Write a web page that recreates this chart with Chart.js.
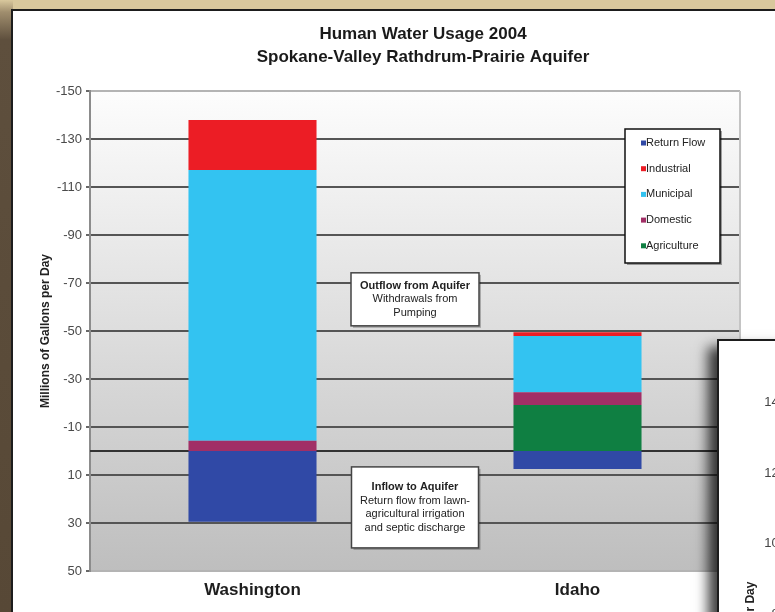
<!DOCTYPE html>
<html>
<head>
<meta charset="utf-8">
<script src="https://cdn.jsdelivr.net/npm/chart.js@4"></script>
<style>
  body { margin:0; width:775px; height:612px; overflow:hidden; position:relative; background:#d9c89d; font-family:"Liberation Sans", Arial, sans-serif; }
  #edge { position:absolute; left:0; top:0; width:13px; height:612px; background:linear-gradient(to bottom, #d9c89d 0px, #a08e6e 12px, #5e4f3d 40px, #574836 100%); }
  #panel { position:absolute; left:11px; top:9px; width:800px; height:700px; background:#fff; border:2px solid #1d1d1d; }
  #main { position:absolute; left:0; top:0; z-index:2; }
  #inset { position:absolute; left:717px; top:339px; width:300px; height:660px; background:#fff; border:2px solid #1d1d1d; box-shadow:-9px 8px 12px rgba(0,0,0,0.75); z-index:3; }
  #insetChart { position:absolute; left:0; top:0; }
</style>
</head>
<body>
<div id="edge"></div>
<div id="panel"></div>
<canvas id="main" width="846" height="612"></canvas>
<div id="inset"><canvas id="insetChart" width="300" height="624"></canvas></div>
<script>
// values, millions of gallons per day (withdrawals negative)
const categories = ['Washington', 'Idaho'];
const returnFlow = [29.5, 7.5];
const agriculture = [0, -19.2];
const domestic = [-4.3, -5.3];
const municipal = [-112.8, -23.4];
const industrial = [-20.8, -1.6];

const yMin = -150, yMax = 50, yStep = 20;
// the second chart only shows a few of its tick labels
const insetMin = -15, insetMax = 150;
const insetTicks = [0, 20, 40, 60, 80, 100, 120, 140];

const titleLines = ['Human Water Usage 2004', 'Spokane-Valley Rathdrum-Prairie Aquifer'];
const yTitle = 'Millions of Gallons per Day';
const outflowNote = ['Outflow from Aquifer', 'Withdrawals from', 'Pumping'];
const inflowNote = ['Inflow to Aquifer', 'Return flow from lawn-', 'agricultural irrigation', 'and septic discharge'];

const FONT = '"Liberation Sans", Arial, sans-serif';
Chart.defaults.font.family = FONT;

function noteBox(ctx, cx, cy, w, h, lines) {
  const x = cx - w / 2, y = cy - h / 2;
  ctx.save();
  ctx.fillStyle = 'rgba(0,0,0,0.25)';
  ctx.fillRect(x + 2, y + 2, w, h);
  ctx.fillStyle = '#fff';
  ctx.fillRect(x, y, w, h);
  ctx.strokeStyle = '#444';
  ctx.lineWidth = 1.5;
  ctx.strokeRect(x, y, w, h);
  ctx.fillStyle = '#222';
  ctx.textAlign = 'center';
  ctx.textBaseline = 'middle';
  const lh = 13.6;
  const start = cy - (lines.length - 1) * lh / 2;
  lines.forEach((t, i) => {
    ctx.font = (i === 0 ? 'bold ' : '') + '11px ' + FONT;
    ctx.fillText(t, cx, start + i * lh);
  });
  ctx.restore();
}

const decor = {
  id: 'decor',
  beforeDraw(chart) {
    const {ctx, chartArea: a} = chart;
    const g = ctx.createLinearGradient(0, a.top, 0, a.bottom);
    g.addColorStop(0, '#fdfdfd');
    g.addColorStop(1, '#bebebe');
    ctx.save();
    ctx.fillStyle = g;
    ctx.fillRect(a.left, a.top, a.right - a.left, a.bottom - a.top);
    ctx.restore();
  },
  beforeDatasetsDraw(chart) {
    const {ctx, chartArea: a, scales: {y}} = chart;
    ctx.save();
    ctx.strokeStyle = '#c4c4c4';
    ctx.lineWidth = 2;
    ctx.beginPath();
    ctx.moveTo(a.right, a.top);
    ctx.lineTo(a.right, a.bottom);
    ctx.stroke();
    const y0 = y.getPixelForValue(0);
    ctx.strokeStyle = '#333';
    ctx.beginPath();
    ctx.moveTo(a.left, y0);
    ctx.lineTo(a.right, y0);
    ctx.stroke();
    ctx.restore();
  },
  afterDraw(chart) {
    const {ctx, chartArea: a, scales: {x, y}} = chart;
    const mid = (x.getPixelForValue(0) + x.getPixelForValue(1)) / 2;
    noteBox(ctx, mid, y.getPixelForValue(-63.2), 128, 53, outflowNote);
    noteBox(ctx, mid, y.getPixelForValue(23.5), 127, 81, inflowNote);

    // legend box
    const bx = a.right - 115, by = a.top + 38, bw = 95, bh = 134;
    ctx.save();
    ctx.fillStyle = 'rgba(0,0,0,0.35)';
    ctx.fillRect(bx + 2, by + 2, bw, bh);
    ctx.fillStyle = '#fff';
    ctx.fillRect(bx, by, bw, bh);
    ctx.strokeStyle = '#111';
    ctx.lineWidth = 1.5;
    ctx.strokeRect(bx, by, bw, bh);
    ctx.font = '11px ' + FONT;
    ctx.textBaseline = 'middle';
    chart.data.datasets.slice().reverse().forEach((ds, i) => {
      const ly = by + 14 + i * 25.7;
      ctx.fillStyle = ds.backgroundColor;
      ctx.fillRect(bx + 16, ly - 2.5, 5, 5);
      ctx.fillStyle = '#222';
      ctx.fillText(ds.label, bx + 21, ly);
    });
    ctx.restore();
  }
};

new Chart(document.getElementById('main'), {
  type: 'bar',
  data: {
    labels: categories,
    datasets: [
      { label: 'Agriculture', data: agriculture, backgroundColor: '#0f7f42' },
      { label: 'Domestic', data: domestic, backgroundColor: '#a12f66' },
      { label: 'Municipal', data: municipal, backgroundColor: '#33c3f1' },
      { label: 'Industrial', data: industrial, backgroundColor: '#ec1d25' },
      { label: 'Return Flow', data: returnFlow, backgroundColor: '#3049a6' }
    ]
  },
  options: {
    responsive: false,
    animation: false,
    devicePixelRatio: 1,
    barPercentage: 0.394,
    categoryPercentage: 1,
    layout: { padding: 0 },
    plugins: {
      legend: { display: false },
      tooltip: { enabled: false },
      title: {
        display: true,
        text: titleLines,
        color: '#1a1a1a',
        font: { size: 17, weight: 'bold', lineHeight: 1.353 },
        padding: { top: 23, bottom: 22 }
      }
    },
    scales: {
      x: {
        stacked: true,
        grid: { display: false, drawTicks: false },
        border: { display: false },
        ticks: { color: '#1e1e1e', font: { size: 17, weight: 'bold' }, padding: 9 },
        afterFit(s) { s.height = 41; }
      },
      y: {
        stacked: true,
        reverse: true,
        min: yMin,
        max: yMax,
        ticks: { stepSize: yStep, color: '#4a4a4a', font: { size: 13 }, padding: 4 },
        grid: {
          color: c => (c.index === 0 || c.index === 10) ? '#b4b4b4' : '#555',
          lineWidth: 2,
          tickLength: 4,
          tickColor: '#666'
        },
        border: { display: true, color: '#8c8c8c', width: 2 },
        title: {
          display: true,
          text: yTitle,
          color: '#222',
          font: { size: 12, weight: 'bold' },
          padding: { top: 38, bottom: 0 }
        },
        afterFit(s) { s.width = 90; }
      },
      // empty right axis: only keeps the white margin right of the plot
      spacer: {
        position: 'right',
        grid: { display: false, drawTicks: false },
        border: { display: false },
        ticks: { display: false },
        afterFit(s) { s.width = 106; }
      }
    }
  },
  plugins: [decor]
});

// second chart peeking in at the lower right
new Chart(document.getElementById('insetChart'), {
  type: 'bar',
  data: { labels: [], datasets: [] },
  options: {
    responsive: false,
    animation: false,
    devicePixelRatio: 1,
    layout: { padding: { left: 0, right: 0, top: 26, bottom: 4 } },
    plugins: { legend: { display: false }, tooltip: { enabled: false } },
    scales: {
      x: { display: false },
      y: {
        min: insetMin,
        max: insetMax,
        afterBuildTicks(s) { s.ticks = insetTicks.map(v => ({ value: v })); },
        ticks: { color: '#444', font: { size: 13 }, padding: 7 },
        grid: { display: false, drawTicks: false },
        border: { display: false },
        title: {
          display: true,
          text: yTitle,
          color: '#222',
          font: { size: 12, weight: 'bold' },
          padding: { top: 24, bottom: 0 }
        },
        afterFit(s) { s.width = 74; }
      }
    }
  }
});
</script>
</body>
</html>
